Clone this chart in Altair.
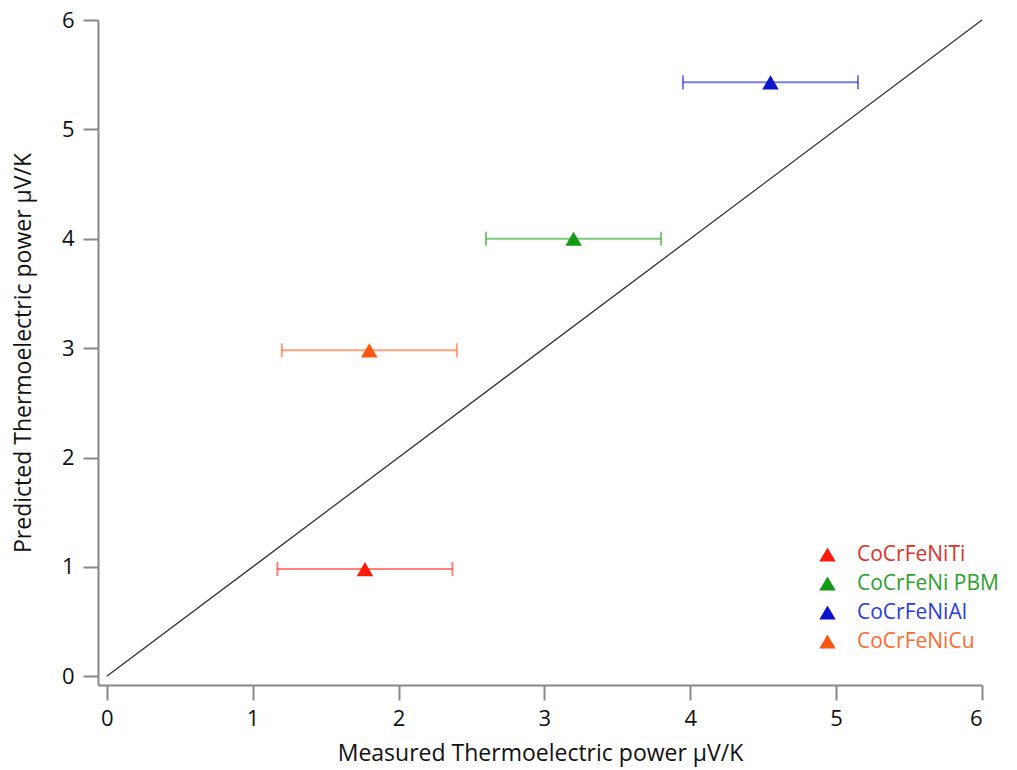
import altair as alt
import pandas as pd

names = ["CoCrFeNiTi", "CoCrFeNi PBM", "CoCrFeNiAl", "CoCrFeNiCu"]
measured = [1.77, 3.20, 4.55, 1.80]
predicted = [0.98, 4.00, 5.43, 2.98]
err = [0.60, 0.60, 0.60, 0.60]
marker_colors = ["#ff1a0a", "#129a12", "#0a14cc", "#ff5510"]
text_colors = ["#e0302c", "#2ea02e", "#2a3ce0", "#ff6a30"]
line_x = [0, 6]
line_y = [0, 6]

df = pd.DataFrame({
    "name": names,
    "measured": measured,
    "predicted": predicted,
    "lo": [m - e for m, e in zip(measured, err)],
    "hi": [m + e for m, e in zip(measured, err)],
})
df_line = pd.DataFrame({"x": line_x, "y": line_y})

font = "Open Sans"

xscale = alt.Scale(domain=[-0.06, 6], nice=False, zero=False)
yscale = alt.Scale(domain=[-0.08, 6], nice=False, zero=False)

label_expr = " : ".join(
    f"datum.label == '{n}' ? '{c}'" for n, c in zip(names[:-1], text_colors[:-1])
) + f" : '{text_colors[-1]}'"

color = alt.Color(
    "name:N",
    scale=alt.Scale(domain=names, range=marker_colors),
    sort=names,
    legend=alt.Legend(
        title=None,
        orient="none",
        legendX=719,
        legendY=524,
        symbolType="triangle-up",
        symbolSize=270,
        symbolStrokeWidth=0,
        symbolOpacity=1,
        labelFont=font,
        labelFontSize=21,
        labelOffset=19,
        rowPadding=7,
        labelColor=alt.ExprRef(label_expr),
    ),
)

xaxis = alt.Axis(
    title="Measured Thermoelectric power μV/K",
    values=[0, 1, 2, 3, 4, 5, 6],
    format="d",
    grid=False,
    domainColor="#888888",
    domainWidth=2,
    tickColor="#888888",
    tickWidth=2,
    tickSize=15,
    labelFont=font,
    labelFontSize=22,
    labelColor="#111111",
    labelPadding=8,
    titleFont=font,
    titleFontSize=23,
    titleFontWeight="normal",
    titleColor="#111111",
    titlePadding=13,
)
yaxis = alt.Axis(
    title="Predicted Thermoelectric power μV/K",
    values=[0, 1, 2, 3, 4, 5, 6],
    format="d",
    grid=False,
    domainColor="#888888",
    domainWidth=2,
    tickColor="#888888",
    tickWidth=2,
    tickSize=15,
    labelFont=font,
    labelFontSize=22,
    labelColor="#111111",
    labelPadding=9,
    titleFont=font,
    titleFontSize=23,
    titleFontWeight="normal",
    titleColor="#111111",
    titlePadding=26,
)

base = alt.Chart(df)

diag = alt.Chart(df_line).mark_line(color="#333333", strokeWidth=1.3).encode(
    x=alt.X("x:Q", scale=xscale, axis=xaxis),
    y=alt.Y("y:Q", scale=yscale, axis=yaxis),
)

bars = base.mark_rule(strokeWidth=2, opacity=0.55).encode(
    x=alt.X("lo:Q", scale=xscale),
    x2="hi:Q",
    y=alt.Y("predicted:Q", scale=yscale),
    color=color,
)
cap_lo = base.mark_tick(orient="vertical", size=14, thickness=2, opacity=0.55).encode(
    x=alt.X("lo:Q", scale=xscale),
    y=alt.Y("predicted:Q", scale=yscale),
    color=color,
)
cap_hi = base.mark_tick(orient="vertical", size=14, thickness=2, opacity=0.55).encode(
    x=alt.X("hi:Q", scale=xscale),
    y=alt.Y("predicted:Q", scale=yscale),
    color=color,
)
points = base.mark_point(shape="triangle-up", filled=True, size=270, opacity=1).encode(
    x=alt.X("measured:Q", scale=xscale),
    y=alt.Y("predicted:Q", scale=yscale),
    color=color,
    shape=alt.value("triangle-up"),
)

chart = (
    alt.layer(diag, bars, cap_lo, cap_hi, points)
    .properties(
        width=884,
        height=665,
        autosize=alt.AutoSizeParams(type="none"),
        padding={"left": 98, "top": 20, "right": 35, "bottom": 85},
        background="white",
    )
    .configure_view(stroke=None)
)

chart.save("out.html", embed_options={"renderer": "svg", "actions": False})
